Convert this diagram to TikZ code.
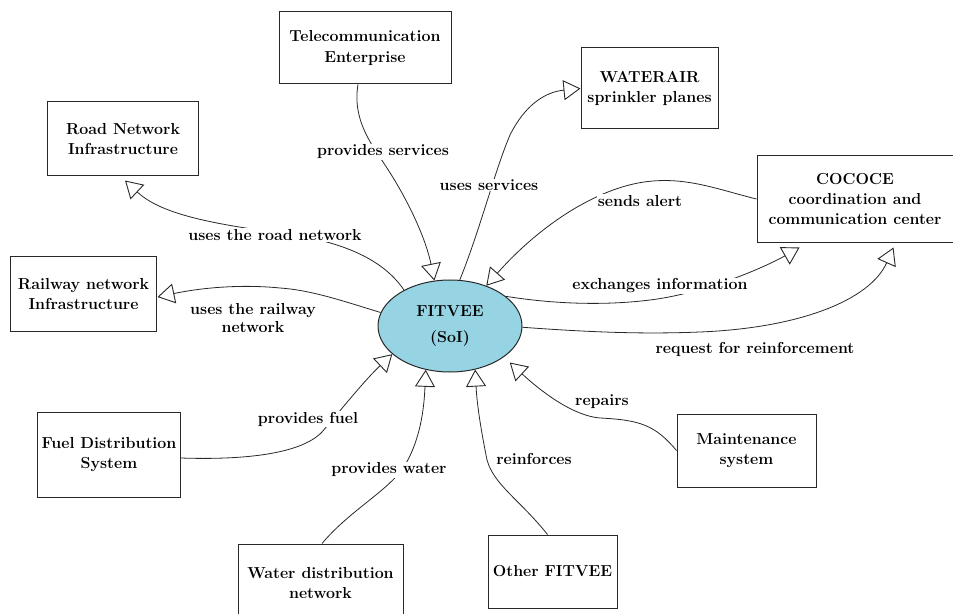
\documentclass[tikz,border=0pt]{standalone}
\usetikzlibrary{arrows.meta,shapes.geometric}
\definecolor{ellfill}{RGB}{150,212,228}
\definecolor{ink}{RGB}{40,40,40}
\tikzset{
  box/.style={draw=ink, line width=1bp, fill=white, align=center, inner sep=2bp, font=\bfseries\fontsize{16}{20.5}\selectfont},
  lbl/.style={fill=white, inner sep=1bp, align=center, font=\bfseries\fontsize{16}{19}\selectfont},
  conn/.style={draw=ink, line width=0.8bp, -{Triangle[open, length=17bp, width=20bp, line width=0.9bp]}},
}
\begin{document}
\begin{tikzpicture}[x=1bp,y=-1bp]
\useasboundingbox (0,0) rectangle (953,614);
% boxes
\node[box, minimum width=172bp, minimum height=72bp] (tel) at (365,48) {Telecommunication\\Enterprise};
\node[box, minimum width=137bp, minimum height=81bp] (wat) at (649.5,88.5) {WATERAIR\\sprinkler planes};
\node[box, minimum width=150bp, minimum height=74bp] (road) at (123,139) {Road Network\\Infrastructure};
\node[box, minimum width=145bp, minimum height=74bp] (rail) at (83.5,294) {Railway network\\Infrastructure};
\node[box, minimum width=196bp, minimum height=86bp] (coc) at (855,199) {COCOCE\\coordination and\\communication center};
\node[box, minimum width=142bp, minimum height=85bp] (fuel) at (109,454.5) {Fuel Distribution\\System};
\node[box, minimum width=139bp, minimum height=73bp] (mnt) at (746.5,450.5) {Maintenance\\system};
\node[box, minimum width=165bp, minimum height=78bp] (wdn) at (320.5,583) {Water distribution\\network};
\node[box, minimum width=129bp, minimum height=73bp] (oth) at (552.5,571.5) {Other FITVEE};
% ellipse
\node[ellipse, draw=ink, line width=1bp, fill=ellfill, minimum width=144bp, minimum height=92bp, inner sep=0pt, align=center, font=\bfseries\fontsize{16}{26}\selectfont] (fit) at (450,326) {FITVEE\\(SoI)};
% connectors
\draw[conn] ([xshift=-7bp]tel.south) .. controls (352,120) and (372,145) .. (385,165) .. controls (405,195) and (425,235) .. (fit.109);
\draw[conn] (fit.78) .. controls (480,230) and (495,170) .. (510,135) .. controls (525,105) and (545,92) .. (wat.west);
\draw[conn] (coc.west) .. controls (720,190) and (690,178) .. (653,181) .. controls (600,185) and (540,225) .. (fit.48);
\draw[conn] (fit.28) .. controls (560,305) and (610,305) .. (650,300) .. controls (700,294) and (760,270) .. ([xshift=43bp,yshift=-5bp]coc.south west);
\draw[conn] (fit.-1) .. controls (600,333) and (650,334) .. (700,332) .. controls (800,328) and (870,300) .. ([xshift=38.5bp,yshift=-5bp]coc.south);
\draw[conn] (fit.142) .. controls (385,262) and (350,245) .. (300,236) .. controls (230,226) and (165,218) .. ([xshift=2bp,yshift=-4bp]road.south);
\draw[conn] (fit.169) .. controls (340,300) and (310,290) .. (280,288) .. controls (240,284) and (200,288) .. ([xshift=1bp,yshift=-3bp]rail.east);
\draw[conn] ([yshift=-3.5bp]fuel.east) .. controls (240,460) and (300,455) .. (322,432) .. controls (345,405) and (365,380) .. (fit.206);
\draw[conn] ([xshift=1.5bp]wdn.north) .. controls (350,510) and (390,490) .. (405,465) .. controls (420,440) and (424,410) .. (fit.241);
\draw[conn] ([xshift=-5bp]oth.north) .. controls (520,500) and (494,485) .. (487,460) .. controls (481,430) and (477,405) .. (fit.300);
\draw[conn, shorten >=8bp] (mnt.west) .. controls (655,425) and (640,420) .. (600,418) .. controls (575,416) and (545,395) .. (fit.330);
% labels
\node[lbl] (l1) at (383,152) {provides services};
\node[lbl] (l2) at (489,185) {uses services};
\node[lbl] (l3) at (640,201) {sends alert};
\node[lbl] (l4) at (660,286) {exchanges information};
\node[lbl] (l5) at (755,349) {request for reinforcement};
\node[lbl] (l6) at (275,235) {uses the road network};
\node[lbl] (l7) at (253,318) {uses the railway\\network};
\node[lbl] (l8) at (308,419) {provides fuel};
\node[lbl] (l9) at (389,470) {provides water};
\node[lbl] (l10) at (534,459) {reinforces};
\node[lbl] (l11) at (602,402) {repairs};
\end{tikzpicture}
\end{document}
